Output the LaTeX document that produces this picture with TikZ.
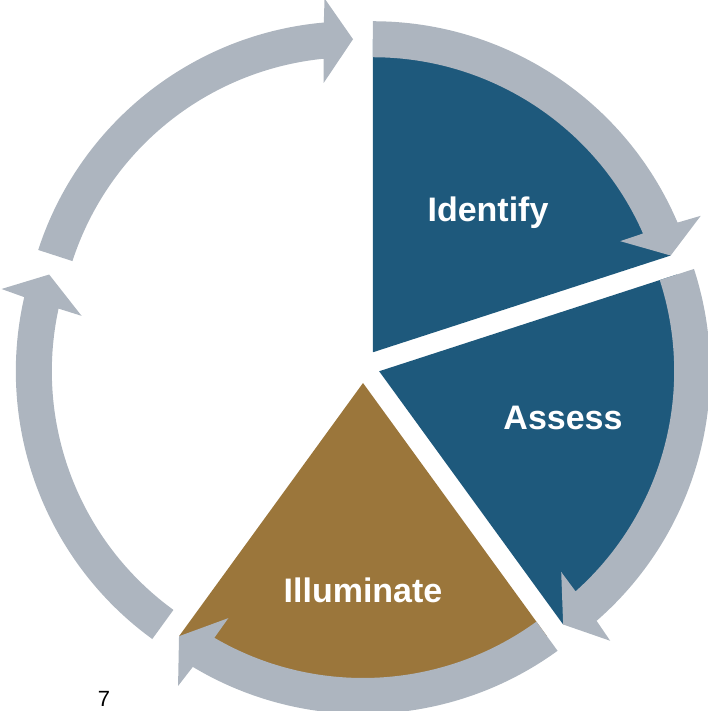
\documentclass[tikz,border=0pt]{standalone}
\usepackage{fontspec}
\setmainfont{Liberation Sans}
\usetikzlibrary{calc}
\definecolor{ringgray}{RGB}{173,181,191}
\definecolor{segblue}{RGB}{30,89,124}
\definecolor{segbrown}{RGB}{155,118,59}
\tikzset{
  ring/.style={fill=ringgray},
  wedgeblue/.style={fill=segblue},
  wedgebrown/.style={fill=segbrown},
  label/.style={text=white, font=\fontsize{34}{36}\selectfont\bfseries, anchor=base, inner sep=0pt},
  pagenum/.style={text=black, font=\fontsize{22}{24}\selectfont, anchor=base, inner sep=0pt}
}
% \arrowseg{bisector}{start angle}{tip angle}
\newcommand{\arrowseg}[3]{%
  \begin{scope}[shift={(363pt,345pt)}]
  \begin{scope}[shift={(#1:17pt)}]
    \fill[ring] (#2:331pt) arc[start angle=#2, end angle={#3+5.06}, radius=331pt]
      -- ({#3+4.6}:355pt) -- (#3:313pt) -- ({#3+6.2}:271pt) -- ({#3+5.74}:295pt)
      arc[start angle={#3+5.74}, end angle=#2, radius=295pt] -- cycle;
  \end{scope}
  \end{scope}}
\newcommand{\wedgeseg}[4]{%
  \begin{scope}[shift={(363pt,345pt)}]
  \begin{scope}[shift={(#1:17pt)}]
    \fill[#4] (0,0) -- (#2:313pt) arc[start angle=#2, end angle=#3, radius=313pt] -- cycle;
  \end{scope}
  \end{scope}}
\begin{document}
\begin{tikzpicture}
\useasboundingbox (0,0) rectangle (708pt,711pt);
% wedges
\wedgeseg{54}{90}{18}{wedgeblue}
\wedgeseg{-18}{18}{-54}{wedgeblue}
\wedgeseg{-90}{-54}{-126}{wedgebrown}
% ring arrows
\arrowseg{54}{90}{18}
\arrowseg{-18}{18}{-54}
\arrowseg{-90}{-54}{-126}
\arrowseg{-162}{-126}{-198}
\arrowseg{126}{162}{90}
% labels
\node[label] (identify) at (488pt,489pt) {Identify};
\node[label] (assess) at (563pt,281pt) {Assess};
\node[label] (illuminate) at (363pt,108pt) {Illuminate};
\node[pagenum] (page) at (104pt,5pt) {7};
\end{tikzpicture}
\end{document}
